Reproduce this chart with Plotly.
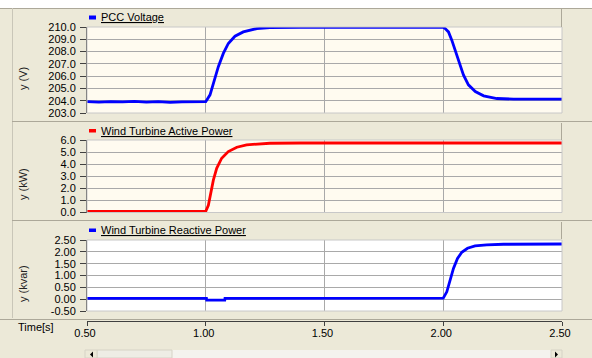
import plotly.graph_objects as go

W, H = 592, 358

# ---------------- data ----------------
t_voltage = [0.50, 0.55, 0.60, 0.65, 0.70, 0.75, 0.80, 0.85, 0.90, 0.95, 1.000,
             1.018, 1.032, 1.053, 1.074, 1.095, 1.123, 1.158, 1.215, 1.27, 1.40,
             1.60, 1.80, 2.000, 2.008, 2.022, 2.036, 2.050, 2.064, 2.085, 2.106,
             2.135, 2.170, 2.226, 2.296, 2.35, 2.40, 2.45, 2.50]
pcc_voltage = [203.92, 203.88, 203.93, 203.90, 203.94, 203.89, 203.92, 203.87, 203.91, 203.93, 203.92,
               204.48, 205.43, 206.77, 207.85, 208.66, 209.25, 209.60, 209.87, 209.95, 209.97,
               209.97, 209.97, 209.97, 209.87, 209.60, 208.93, 208.10, 207.17, 206.10, 205.29,
               204.75, 204.40, 204.18, 204.13, 204.12, 204.14, 204.12, 204.13]

t_active = [0.50, 1.000, 1.011, 1.021, 1.032, 1.046, 1.067, 1.095, 1.131, 1.172,
            1.229, 1.27, 1.40, 2.00, 2.50]
active_power = [0.10, 0.10, 0.60, 1.58, 2.68, 3.66, 4.49, 5.04, 5.40, 5.60,
                5.68, 5.73, 5.75, 5.75, 5.75]

t_reactive = [0.50, 1.003, 1.004, 1.080, 1.081, 2.000, 2.015, 2.029, 2.043, 2.060,
              2.078, 2.102, 2.134, 2.183, 2.254, 2.50]
reactive_power = [0.03, 0.03, -0.04, -0.04, 0.03, 0.04, 0.31, 0.80, 1.30, 1.72,
                  1.98, 2.15, 2.25, 2.29, 2.32, 2.33]

time_ticks = [0.5, 1.0, 1.5, 2.0, 2.5]
time_labels = ["0.50", "1.00", "1.50", "2.00", "2.50"]
v_ticks = [203, 204, 205, 206, 207, 208, 209, 210]
v_labels = ["203.0", "204.0", "205.0", "206.0", "207.0", "208.0", "209.0", "210.0"]
p_ticks = [0, 1, 2, 3, 4, 5, 6]
p_labels = ["0.0", "1.0", "2.0", "3.0", "4.0", "5.0", "6.0"]
q_ticks = [-0.5, 0.0, 0.5, 1.0, 1.5, 2.0, 2.5]
q_labels = ["-0.50", "0.00", "0.50", "1.00", "1.50", "2.00", "2.50"]

names = ["PCC Voltage", "Wind Turbine Active Power", "Wind Turbine Reactive Power"]
ytitles = ["y (V)", "y (kW)", "y (kvar)"]
colors = ["#0000FF", "#FF0000", "#0000FF"]

# ---------------- layout helpers (pixel -> paper) ----------------
def X(px):
    return px / W

def Y(py):
    return 1 - py / H

FONT = "Liberation Sans, Arial, sans-serif"
BEIGE = "#ECE9D8"
CREAM = "#FFFBF0"
GRID = "#A9A9A9"
AXC = "#404040"
BORDER = "#ACA899"

xl, xr = 87, 562
panels = [(27, 113), (140, 212.5), (240, 311)]
headers = [(8, 26), (123, 139), (222, 238)]

fig = go.Figure()
fig.add_trace(go.Scatter(x=t_voltage, y=pcc_voltage, mode="lines",
                         line=dict(color=colors[0], width=2.8), xaxis="x", yaxis="y",
                         hoverinfo="skip", showlegend=False))
fig.add_trace(go.Scatter(x=t_active, y=active_power, mode="lines",
                         line=dict(color=colors[1], width=2.8), xaxis="x2", yaxis="y2",
                         hoverinfo="skip", showlegend=False))
fig.add_trace(go.Scatter(x=t_reactive, y=reactive_power, mode="lines",
                         line=dict(color=colors[2], width=2.8), xaxis="x3", yaxis="y3",
                         hoverinfo="skip", showlegend=False))
# carrier for the time axis drawn below the last panel
fig.add_trace(go.Scatter(x=[time_ticks[0], time_ticks[-1]], y=[q_ticks[0], q_ticks[0]],
                         mode="markers", marker=dict(opacity=0, size=1),
                         xaxis="x4", yaxis="y3", hoverinfo="skip", showlegend=False))

xdom = [X(xl), X(xr)]
common_x = dict(range=[0.5, 2.5], tickvals=time_ticks, showticklabels=False, ticks="",
                showgrid=True, gridcolor=GRID, gridwidth=1, zeroline=False,
                showline=False, domain=xdom, fixedrange=True, automargin=False)
tickfont = dict(family=FONT, size=11, color="#000000")

def yax(rng, tv, tl, p):
    top, bot = panels[p]
    return dict(range=rng, tickvals=tv, ticktext=tl, ticks="outside", ticklen=6,
                tickcolor=AXC, tickwidth=1, showline=True, linecolor=AXC, linewidth=1,
                showgrid=True, gridcolor=GRID, gridwidth=1, zeroline=False,
                tickfont=tickfont, domain=[Y(bot), Y(top)], fixedrange=True,
                automargin=False, ticklabelstandoff=2)

layout = dict(
    width=W, height=H, autosize=False,
    margin=dict(l=0, r=0, t=0, b=0, pad=0, autoexpand=False),
    paper_bgcolor=BEIGE, plot_bgcolor=CREAM,
    xaxis=dict(common_x, anchor="y"),
    xaxis2=dict(common_x, anchor="y2"),
    xaxis3=dict(common_x, anchor="y3"),
    xaxis4=dict(range=[0.5, 2.5], tickvals=time_ticks, ticktext=time_labels,
                overlaying="x3", anchor="free", position=Y(321), domain=xdom,
                ticks="outside", ticklen=4, tickcolor=AXC, showline=True, linecolor=AXC,
                showgrid=False, zeroline=False, tickfont=tickfont, fixedrange=True,
                automargin=False, ticklabelstandoff=-2, ticklabelshift=-2),
    yaxis=dict(yax([203, 210], v_ticks, v_labels, 0), anchor="x"),
    yaxis2=dict(yax([0, 6], p_ticks, p_labels, 1), anchor="x2"),
    yaxis3=dict(yax([-0.5, 2.5], q_ticks, q_labels, 2), anchor="x3"),
)
fig.update_layout(**layout)

shapes = []
def rect(x0, y0, x1, y1, fill=None, line=None, layer="below", lw=1):
    shapes.append(dict(type="rect", xref="paper", yref="paper",
                       x0=X(x0), x1=X(x1), y0=Y(y1), y1=Y(y0),
                       fillcolor=fill if fill else "rgba(0,0,0,0)",
                       line=dict(color=line if line else "rgba(0,0,0,0)", width=lw),
                       layer=layer))

def hline(y, x0, x1, color, lw=1, layer="above"):
    shapes.append(dict(type="line", xref="paper", yref="paper", x0=X(x0), x1=X(x1),
                       y0=Y(y), y1=Y(y), line=dict(color=color, width=lw), layer=layer))

def vline(x, y0, y1, color, lw=1, layer="above"):
    shapes.append(dict(type="line", xref="paper", yref="paper", x0=X(x), x1=X(x),
                       y0=Y(y0), y1=Y(y1), line=dict(color=color, width=lw), layer=layer))

# white strip at the very top
rect(0, 0, W, 8, fill="#FFFFFF")
hline(8.5, 0, W, BORDER)
# left frame
vline(12.5, 8, 318, "#C9C6B8")
# separators between panels
hline(121.5, 12, W, BORDER)
hline(220.5, 12, W, BORDER)
hline(319.5, 0, W, BORDER)
# bottom plot area is white
rect(xl, panels[2][0], xr, panels[2][1], fill="#FFFFFF")
# plot area borders (right/top/bottom light)
for top, bot in panels:
    rect(xl, top, xr, bot, line="#C8C8C8", layer="above")
# header boxes right border
for (ht, hb) in headers:
    vline(561.5, ht, hb + 1, BORDER)

# legend squares
sq = [(15.5, 19.5), (129, 132.5), (228.5, 232)]
for i, (a, b) in enumerate(sq):
    rect(89, a, 96, b, fill=colors[i], layer="above", lw=0)

# scrollbar
rect(85, 350, 562, H, fill="#F4F3EE")
rect(97, 350, 172, H, fill="#EEEDE5", line="#D6D3C6")
rect(85, 350, 97, H, fill="#ECE9D8", line="#D6D3C6")
rect(551, 350, 562, H, fill="#ECE9D8", line="#D6D3C6")
shapes.append(dict(type="path", xref="paper", yref="paper",
                   path=f"M {X(93)} {Y(351.5)} L {X(93)} {Y(357.5)} L {X(90)} {Y(354.5)} Z",
                   fillcolor="#000000", line=dict(width=0), layer="above"))
shapes.append(dict(type="path", xref="paper", yref="paper",
                   path=f"M {X(555)} {Y(351.5)} L {X(555)} {Y(357.5)} L {X(558)} {Y(354.5)} Z",
                   fillcolor="#000000", line=dict(width=0), layer="above"))

fig.update_layout(shapes=shapes)

ann = []
legend_y = [17.5, 131, 230.5]
for i in range(3):
    ann.append(dict(xref="paper", yref="paper", x=X(99), y=Y(legend_y[i]),
                    xanchor="left", yanchor="middle", showarrow=False,
                    text=f'<span style="text-decoration:underline">{names[i]}</span>',
                    font=dict(family=FONT, size=11, color="#000000")))
title_y = [79, 184, 284]
for i in range(3):
    ann.append(dict(xref="paper", yref="paper", x=X(23), y=Y(title_y[i]),
                    xanchor="center", yanchor="middle", showarrow=False, textangle=-90,
                    text=ytitles[i], font=dict(family=FONT, size=11, color="#222222")))
ann.append(dict(xref="paper", yref="paper", x=X(16), y=Y(326.5), xanchor="left",
                yanchor="middle", showarrow=False, text="Time[s]",
                font=dict(family=FONT, size=11, color="#000000")))
fig.update_layout(annotations=ann)

fig.write_html("out.html", config={"displayModeBar": False, "staticPlot": True},
               post_script="document.body.style.margin='0';document.body.style.overflow='hidden';")
